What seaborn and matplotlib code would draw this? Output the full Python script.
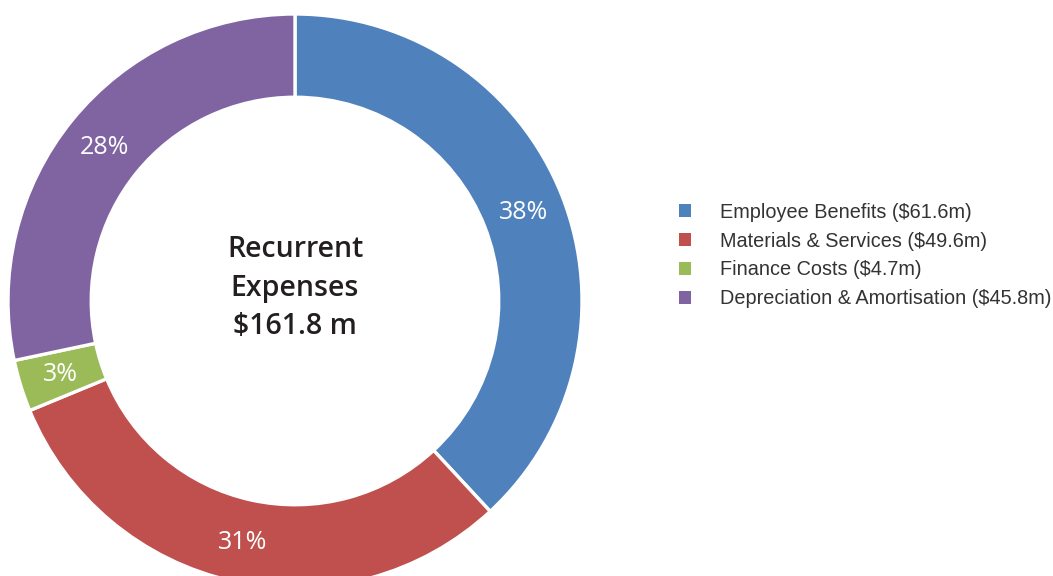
import matplotlib
matplotlib.use("Agg")
import matplotlib.pyplot as plt
import numpy as np
import seaborn as sns

# Recurrent expenses breakdown ($m)
categories = ["Employee Benefits", "Materials & Services", "Finance Costs",
              "Depreciation & Amortisation"]
amounts = [61.6, 49.6, 4.7, 45.8]
pct_labels = ["38%", "31%", "3%", "28%"]
legend_labels = ["Employee Benefits ($61.6m)", "Materials & Services ($49.6m)",
                 "Finance Costs ($4.7m)", "Depreciation & Amortisation ($45.8m)"]
center_title = "Recurrent\nExpenses\n$161.8 m"

sns.set_theme(style="white")
palette = sns.color_palette(["#4F81BD", "#C0504D", "#9BBB59", "#8064A2"])

W, H = 1053, 576
fig = plt.figure(figsize=(W / 100, H / 100), dpi=100)

# donut centred at (295, 301) px with outer radius 287 px
cx, cy, R = 295, 301, 287
ax = fig.add_axes([(cx - R) / W, (H - cy - R) / H, 2 * R / W, 2 * R / H])

ring = 0.29
wedges, _ = ax.pie(
    amounts,
    colors=palette,
    startangle=90,
    counterclock=False,
    radius=1.0,
    wedgeprops=dict(width=ring, edgecolor="white", linewidth=2.4),
)
ax.set_xlim(-1, 1)
ax.set_ylim(-1, 1)
ax.set_aspect("equal")
ax.axis("off")

# percentage labels in the middle of the ring
total = sum(amounts)
angle = 90.0
mid_r = 1 - ring / 2
for w, lab in zip(amounts, pct_labels):
    span = 360.0 * w / total
    theta = np.deg2rad(angle - span / 2)
    ax.text(mid_r * np.cos(theta), mid_r * np.sin(theta) - 0.005, lab,
            ha="center", va="center", color="white", fontsize=18,
            family="Open Sans", fontweight="normal")
    angle -= span

ax.text(0, 0.045, center_title, ha="center", va="center", color="#231f20",
        fontsize=20.5, family="Open Sans", fontweight="semibold",
        linespacing=1.44)

leg = fig.legend(
    wedges, legend_labels,
    loc="center left",
    bbox_to_anchor=(679 / W, (H - 255.5) / H),
    frameon=False,
    handlelength=0.6, handleheight=0.6,
    handletextpad=1.46,
    labelspacing=0.5,
    borderpad=0, borderaxespad=0,
    prop=dict(family="Liberation Sans", size=14.3),
)
for t in leg.get_texts():
    t.set_color("#333333")
for h in leg.legend_handles:
    h.set_edgecolor("none")

fig.savefig("out.png", dpi=100, facecolor="white")
